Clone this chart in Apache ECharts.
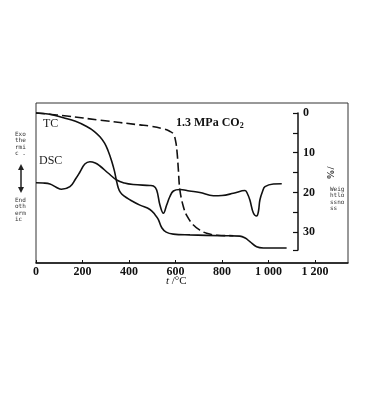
<!DOCTYPE html>
<html><head><meta charset="utf-8">
<script src="https://cdn.jsdelivr.net/npm/echarts@6/dist/echarts.min.js"></script>
<style>html,body{margin:0;padding:0;background:#fff}#c{width:374px;height:401px}</style>
</head><body><div id="c"></div>
<script>
// temperature ticks (°C)
const xTickLabels = {0:'0',200:'200',400:'400',600:'600',800:'800',1000:'1 000',1200:'1 200'};
// TC solid curve (weight loss %) vs temperature
const tcTemp = [0,60,118,170,218,250,275,295,310,325,337,346,354,363,378,405,447,490,512,526,541,560,590,662,800,877,900,920,949,978,1078];
const tcLoss = [0,0.3,1.2,2.1,3.4,4.6,6.0,7.6,9.5,12,14.5,17,18.9,20,20.9,21.9,23.2,24.3,25.6,26.8,28.9,30,30.5,30.7,30.9,31,31.5,32.4,33.7,34,34];
// TC under 1.3 MPa CO2 (dashed)
const co2Temp = [0,132,275,447,490,548,575,591,601,607,612,619,634,650,677,705,734,780,849];
const co2Loss = [0,0.75,1.8,3.0,3.3,4.0,4.6,5.3,7.2,10,14,19.4,23.6,26,28.2,29.5,30.3,30.8,30.9];
// DSC (relative heat flow, arbitrary units; up = exothermic)
const dscTemp = [0,30,60,85,110,146,170,189,210,232,255,275,310,347,380,418,490,505,519,533,548,562,575,591,619,660,705,763,800,849,899,910,920,935,949,957,963,975,985,1021,1057];
const dscHeat = [80.3,80,79,76,73.7,76.3,84,91,99,101.3,100,97,90,83,80,78.5,77.5,77,73,58,49.7,58,66,72,73.5,72,70.5,67.3,67.5,69.7,72.5,69,63,50,47,52,63,72,76.3,79,79.3];
// weight-loss axis labels
const wLabels = {0:'0',10:'10',20:'20',30:'30'};

const zip = (a,b)=>a.map((v,i)=>[v,b[i]]);
const serif = '"Liberation Serif","DejaVu Serif",serif';
const mono = '"DejaVu Sans Mono","Liberation Mono",monospace';

const chart = echarts.init(document.getElementById('c'));
const lineCommon = {type:'line', showSymbol:false, smooth:0.4, animation:false, silent:true};

chart.setOption({
  animation:false,
  grid:[
    {left:36, right:26, top:103, bottom:138, show:true, borderColor:'#333', borderWidth:1},
    {left:298, width:10, top:113, bottom:151, show:false}
  ],
  xAxis:[
    {gridIndex:0, type:'value', min:0, max:1342, interval:200,
     axisLine:{show:true, lineStyle:{color:'#111', width:1.5}},
     axisTick:{show:true, inside:true, length:3, lineStyle:{color:'#111'}},
     splitLine:{show:false},
     axisLabel:{color:'#111', fontFamily:serif, fontSize:12, fontWeight:'bold', margin:3, showMaxLabel:false,
       formatter:v=> xTickLabels[v] !== undefined ? xTickLabels[v] : ''}},
    {gridIndex:1, type:'value', min:0, max:1, show:false}
  ],
  yAxis:[
    {gridIndex:0, type:'value', min:0, max:160, show:false},
    {gridIndex:0, type:'value', inverse:true, min:-2.52, max:37.78, show:false},
    {gridIndex:1, type:'value', position:'left', inverse:true, min:0, max:34.5, interval:5,
     axisLine:{show:true, lineStyle:{color:'#111', width:1.5}},
     axisTick:{show:true, length:5, lineStyle:{color:'#111', width:1.2}},
     splitLine:{show:false},
     axisLabel:{inside:true, margin:5, color:'#111', fontFamily:serif, fontSize:12, fontWeight:'bold',
       formatter:v=> wLabels[v] !== undefined ? wLabels[v] : ''}}
  ],
  series:[
    Object.assign({}, lineCommon, {name:'TC', xAxisIndex:0, yAxisIndex:1, data:zip(tcTemp,tcLoss),
      lineStyle:{color:'#111', width:1.6}}),
    Object.assign({}, lineCommon, {name:'1.3 MPa CO2', xAxisIndex:0, yAxisIndex:1, data:zip(co2Temp,co2Loss),
      lineStyle:{color:'#111', width:1.6, type:[9,4]}}),
    Object.assign({}, lineCommon, {name:'DSC', xAxisIndex:0, yAxisIndex:0, data:zip(dscTemp,dscHeat),
      lineStyle:{color:'#111', width:1.6}})
  ],
  graphic:[
    {type:'text', left:43, top:118, style:{text:'TC', font:'12px '+serif, fill:'#222'}},
    {type:'text', left:39, top:155, style:{text:'DSC', font:'12px '+serif, fill:'#222'}},
    {type:'text', left:176, top:117, style:{text:'1.3 MPa CO{s|2}', font:'bold 12px '+serif, fill:'#111',
      rich:{s:{font:'bold 8px '+serif, fill:'#111', padding:[6,0,0,0]}}}},
    {type:'text', left:15, top:131, style:{text:'Exo\nthe\nrmi\nc .', font:'6px '+mono, fill:'#333', lineHeight:6.5}},
    {type:'text', left:15, top:197, style:{text:'End\noth\nerm\nic', font:'6px '+mono, fill:'#333', lineHeight:6.5}},
    {type:'line', shape:{x1:21, y1:166, x2:21, y2:191}, style:{stroke:'#222', lineWidth:1.5}},
    {type:'polygon', shape:{points:[[18,170],[24,170],[21,164]]}, style:{fill:'#222'}},
    {type:'polygon', shape:{points:[[18,187],[24,187],[21,193]]}, style:{fill:'#222'}},
    {type:'text', left:330, top:186, style:{text:'Weig\nhtlo\nssno\nss', font:'6px '+mono, fill:'#333', lineHeight:6.5}},
    {type:'text', x:330, y:173, rotation:-Math.PI/2, style:{text:'/%', font:'bold 10px '+serif, fill:'#222', align:'center', verticalAlign:'middle'}},
    {type:'text', left:166, top:276, style:{text:'{i|t} /°C', font:'11px '+serif, fill:'#111',
      rich:{i:{font:'italic 11px '+serif, fill:'#111'}}}}
  ]
});
</script></body></html>
